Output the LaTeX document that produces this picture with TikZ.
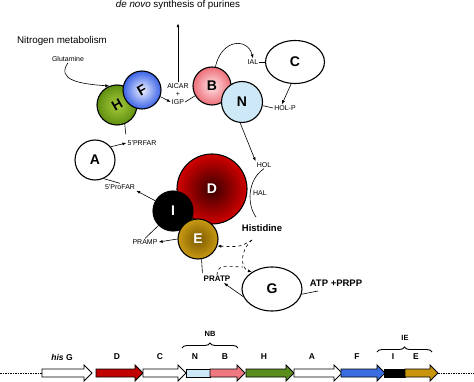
\documentclass[tikz,border=0pt]{standalone}
\usepackage{fontspec}
\setmainfont{Liberation Sans}
\usetikzlibrary{arrows.meta,shapes.geometric,decorations.pathreplacing,calc}
\definecolor{hisHout}{HTML}{5F8F10}
\definecolor{hisHin}{HTML}{A8CC3C}
\definecolor{hisFout}{HTML}{3A62E6}
\definecolor{hisFin}{HTML}{EEF2FF}
\definecolor{hisBout}{HTML}{EE6E78}
\definecolor{hisBin}{HTML}{FDE4E6}
\definecolor{hisN}{HTML}{CDE8F6}
\definecolor{hisDout}{HTML}{D20000}
\definecolor{hisDin}{HTML}{3A0000}
\definecolor{hisEout}{HTML}{C99A12}
\definecolor{hisEin}{HTML}{7A5800}
\definecolor{geneH}{HTML}{5B8C1E}
\definecolor{geneF}{HTML}{3A6EE0}
\definecolor{geneB}{HTML}{F07880}
\definecolor{geneD}{HTML}{C00000}
\definecolor{geneE}{HTML}{C8940C}
\begin{document}
\begin{tikzpicture}[x=1pt, y=-1pt,
	enz/.style={circle, draw, line width=1.1pt, inner sep=0pt, font=\fontsize{14}{14}\selectfont\bfseries},
	enzell/.style={ellipse, draw, line width=1.1pt, inner sep=0pt, font=\fontsize{14}{14}\selectfont\bfseries},
	met/.style={inner sep=1pt, font=\fontsize{7}{7}\selectfont},
	metbold/.style={inner sep=1pt, font=\fontsize{9.5}{9.5}\selectfont\bfseries},
	conn/.style={line width=0.6pt},
	arr/.style={conn, -{Latex[length=4pt,width=3pt]}},
	dasharr/.style={conn, dashed, -{Latex[length=4pt,width=3pt]}},
	genelab/.style={font=\fontsize{8.5}{8.5}\selectfont\bfseries},
	gene/.style={draw, line width=0.9pt, line join=miter}]
	\useasboundingbox (0,0) rectangle (474,382);

	\node[anchor=base, inner sep=0pt, font=\fontsize{9.8}{9.8}\selectfont] (purines) at (178,8) {\textit{de novo} synthesis of purines};
	\node[font=\fontsize{9.8}{9.8}\selectfont] (nitro) at (62,41) {Nitrogen metabolism};
	\node[met] (glut) at (68,59) {Glutamine};

	\node[enz, minimum size=40pt, shading=radial, inner color=hisHin, outer color=hisHout] (H) at (117,105) {\rotatebox{30}{H}};
	\node[enz, minimum size=38pt, shading=radial, inner color=hisFin, outer color=hisFout] (F) at (142,90) {\rotatebox{30}{F}};
	\node[enz, minimum size=40pt, fill=white] (A) at (95,160) {A};
	\node[enz, minimum size=38pt, shading=radial, inner color=hisBin, outer color=hisBout] (B) at (212,86) {B};
	\node[enz, minimum size=41pt, fill=hisN] (N) at (242,102) {N};
	\node[enzell, minimum width=59pt, minimum height=43pt, fill=white] (C) at (295,62) {C};
	\node[enz, minimum size=70pt, shading=radial, inner color=hisDin, outer color=hisDout, text=white] (D) at (212,189) {D};
	\node[enz, minimum size=40pt, fill=black, text=white] (I) at (173,211) {I};
	\node[enz, minimum size=40pt, shading=radial, inner color=hisEin, outer color=hisEout, text=white] (E) at (198,239) {E};
	\node[enzell, minimum width=60pt, minimum height=44pt, fill=white] (G) at (272,289) {G};

	\node[met] (AICAR) at (178,86) {AICAR};
	\node[met] (plus) at (178,94) {+};
	\node[met] (IGP) at (178,102) {IGP};
	\node[met] (PRFAR) at (142,143) {5'PRFAR};
	\node[met] (ProFAR) at (120,187) {5'ProFAR};
	\node[met] (IAL) at (253,62) {IAL};
	\node[met] (HOLP) at (285,108) {HOL-P};
	\node[met] (HOL) at (264,165) {HOL};
	\node[met] (HAL) at (260,193) {HAL};
	\node[metbold] (his) at (262,228) {Histidine};
	\node[met] (PRAMP) at (145,242) {PRAMP};
	\node[inner sep=1pt, font=\fontsize{8}{8}\selectfont\bfseries] (PRATP) at (217,279) {PRATP};
	\node[metbold] (ATP) at (336,283) {ATP +PRPP};

	\coordinate (halend) at (256,217);
	\coordinate (hisfork) at (252,240);
	\coordinate (pratpjoin) at (243,267);
	\coordinate (atpend) at (318,291);

	\draw[arr, shorten >=13pt] (AICAR.north) -- (purines.south);
	\draw[arr] (glut.south) .. controls (56,80) and (80,84) .. (H.112);
	\draw[arr] (F.-20) -- (IGP.west);
	\draw[conn] (IGP.east) -- (B.210);
	\draw[arr] (B.80) .. controls (222,38) and (248,38) .. (IAL.north);
	\draw[conn] (IAL.east) -- (C.west);
	\draw[arr] (C.260) -- (HOLP.130);
	\draw[conn] (N.-10) -- (HOLP.west);
	\draw[arr] (N.-95) -- (HOL.north west);
	\draw[conn] (HOL.south) .. controls (247,180) and (247,205) .. (halend);
	\draw[conn, shorten >=5pt] (H.-68) -- (PRFAR.north west);
	\draw[arr] (A.40) -- (PRFAR.west);
	\draw[conn] (A.-65) -- (ProFAR.north);
	\draw[arr] (I.150) -- (ProFAR.south east);
	\draw[conn] (I.-135) -- (PRAMP.north);
	\draw[arr] (E.west) -- (PRAMP.east);
	\draw[conn, shorten >=2pt] (E.-80) -- (PRATP.north west);
	\draw[arr] (G.195) -- (PRATP.-30);
	\draw[conn] (G.-10) -- (atpend);
	\draw[dasharr] (hisfork) .. controls (240,247) .. (E.-20);
	\draw[dasharr] (hisfork) .. controls (240,250) and (240,268) .. (G.140);
	\draw[conn, dashed] (PRATP.north) .. controls (218,266) .. (pratpjoin);

	\draw[conn, line width=1pt, dash pattern=on 1.5pt off 1pt] (0,373) -- (42,373);
	\draw[conn, line width=1pt, dash pattern=on 1.5pt off 1pt] (438,373) -- (474,373);
	\draw[gene, fill=hisN] (186,369) rectangle (210,377);
	\draw[gene, fill=black] (384,369) rectangle (405,377);
	\foreach \xa/\xb/\col in {42/92/white, 96/143/geneD, 143/186/white, 210/245/geneB, 246/294/geneH, 294/342/white, 341/385/geneF, 405/438/geneE}
		\draw[gene, fill=\col] (\xa,369) -- (\xb-8,369) -- (\xb-8,365) -- (\xb,373) -- (\xb-8,381) -- (\xb-8,377) -- (\xa,377) -- cycle;

	\node[genelab] (lhisG) at (62,357) {\textit{his} G};
	\node[genelab] (lD) at (117,357) {D};
	\node[genelab] (lC) at (160,357) {C};
	\node[genelab] (lN) at (195,357) {N};
	\node[genelab] (lB) at (225,357) {B};
	\node[genelab] (lH) at (264,357) {H};
	\node[genelab] (lA) at (312,357) {A};
	\node[genelab] (lF) at (357,357) {F};
	\node[genelab] (lI) at (393,357) {I};
	\node[genelab] (lE) at (416,357) {E};

	\draw[conn, line width=0.9pt, decorate, decoration={brace, amplitude=5pt}] (182,348) -- (238,348);
	\draw[conn, line width=0.9pt, decorate, decoration={brace, amplitude=5pt}] (377,352) -- (432,352);
	\node[font=\fontsize{7.5}{7.5}\selectfont\bfseries] (lNB) at (210,334) {NB};
	\node[font=\fontsize{7.5}{7.5}\selectfont\bfseries] (lIE) at (405,338) {IE};
\end{tikzpicture}
\end{document}
